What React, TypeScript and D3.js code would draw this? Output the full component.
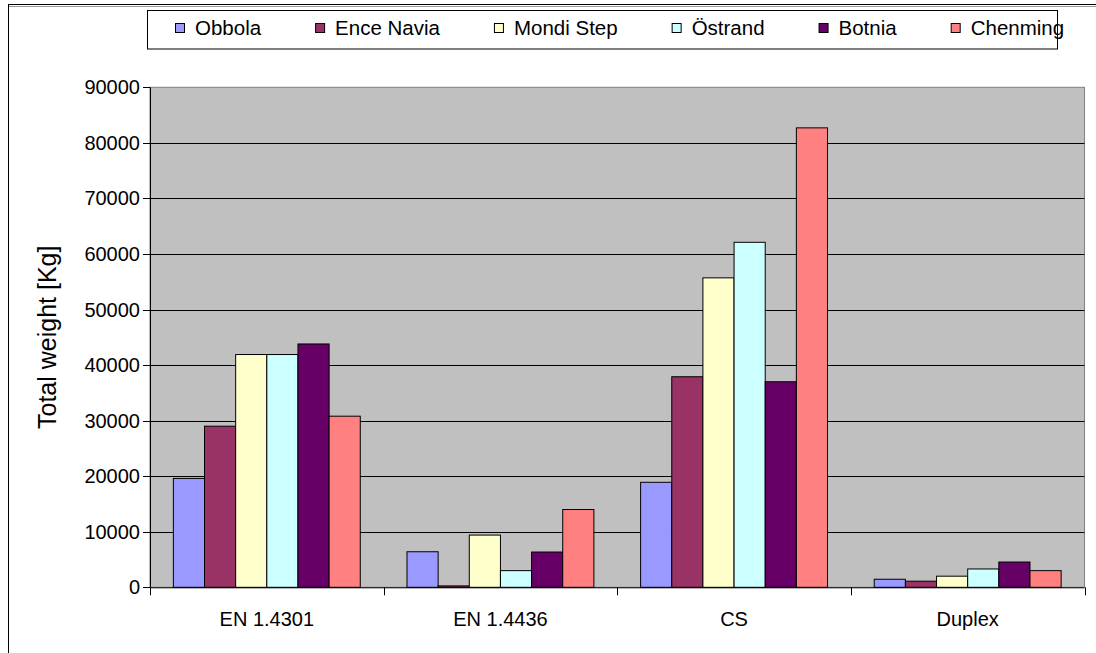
import React from "react";
import * as d3 from "d3";

// Material groups along the x axis
const categories = ["EN 1.4301", "EN 1.4436", "CS", "Duplex"];

// Mills (one series each)
const seriesNames = ["Obbola", "Ence Navia", "Mondi Step", "Östrand", "Botnia", "Chenming"];
const seriesColors = ["#9999FF", "#993366", "#FFFFCC", "#CCFFFF", "#660066", "#FF8080"];

// Total weight [Kg] per material group, one array per mill
const obbola = [19600, 6400, 18900, 1450];
const enceNavia = [29000, 250, 37900, 1100];
const mondiStep = [41900, 9400, 55700, 2000];
const ostrand = [41900, 3000, 62100, 3300];
const botnia = [43800, 6350, 37000, 4550];
const chenming = [30800, 14000, 82700, 3000];

const yTicks = [0, 10000, 20000, 30000, 40000, 50000, 60000, 70000, 80000, 90000];

const seriesValues = [obbola, enceNavia, mondiStep, ostrand, botnia, chenming];

const W = 1096;
const H = 653;
const FONT = "Arial, 'Liberation Sans', sans-serif";

function textWidth(text: string, size: number): number {
  const c = document.createElement("canvas").getContext("2d");
  if (!c) return text.length * size * 0.55;
  c.font = `${size}px ${FONT}`;
  return c.measureText(text).width;
}

export default function App() {
  const plot = { left: 150, right: 1084.5, top: 87.3, bottom: 587.3 };

  const x0 = d3.scaleBand<string>().domain(categories).range([plot.left, plot.right]).padding(0);
  const x1 = d3
    .scaleBand<string>()
    .domain(seriesNames)
    .range([0, x0.bandwidth()])
    .paddingInner(0)
    .paddingOuter(0.75);
  const y = d3.scaleLinear().domain([0, 90000]).range([plot.bottom, plot.top]);

  // Legend layout from measured label widths
  const legendFont = 20.5;
  let lx = 175;
  const legendItems = seriesNames.map((name, i) => {
    const item = { name, color: seriesColors[i], x: lx };
    lx += 20 + textWidth(name, legendFont) + 54;
    return item;
  });

  return (
    <svg
      width={W}
      height={H}
      style={{ position: "absolute", left: 0, top: 0, background: "#fff" }}
      fontFamily={FONT}
    >
      {/* chart frame */}
      <rect x={8.5} y={4.5} width={W + 20} height={H + 20} fill="#fff" stroke="#000" strokeWidth={1} />
      <line x1={9} x2={W} y1={6.5} y2={6.5} stroke="#9a9a9a" strokeWidth={1} />

      {/* plot area */}
      <rect
        x={plot.left}
        y={plot.top}
        width={plot.right - plot.left}
        height={plot.bottom - plot.top}
        fill="#C0C0C0"
        stroke="#808080"
        strokeWidth={1}
      />

      {/* gridlines */}
      {yTicks
        .filter((t) => t > 0 && t < 90000)
        .map((t) => (
          <line
            key={`g${t}`}
            x1={plot.left}
            x2={plot.right}
            y1={Math.round(y(t)) + 0.5}
            y2={Math.round(y(t)) + 0.5}
            stroke="#000"
            strokeWidth={1}
          />
        ))}

      {/* bars */}
      {categories.map((cat, ci) =>
        seriesNames.map((name, si) => {
          const v = seriesValues[si][ci];
          const bx = (x0(cat) ?? 0) + (x1(name) ?? 0);
          return (
            <rect
              key={`${cat}-${name}`}
              x={bx}
              y={y(v)}
              width={x1.bandwidth()}
              height={plot.bottom - y(v)}
              fill={seriesColors[si]}
              stroke="#000"
              strokeWidth={1}
            />
          );
        })
      )}

      {/* y axis */}
      <line x1={plot.left + 0.5} x2={plot.left + 0.5} y1={plot.top} y2={plot.bottom} stroke="#000" />
      {yTicks.map((t) => (
        <g key={`yt${t}`}>
          <line
            x1={plot.left - 7}
            x2={plot.left}
            y1={Math.round(y(t)) + 0.5}
            y2={Math.round(y(t)) + 0.5}
            stroke="#000"
          />
          <text x={140} y={y(t)} dy="0.35em" textAnchor="end" fontSize={20} fill="#000">
            {t}
          </text>
        </g>
      ))}
      <text
        transform={`translate(56, ${(plot.top + plot.bottom) / 2}) rotate(-90)`}
        textAnchor="middle"
        fontSize={25}
        fill="#000"
      >
        Total weight [Kg]
      </text>

      {/* x axis */}
      <line x1={plot.left} x2={plot.right} y1={plot.bottom + 0.5} y2={plot.bottom + 0.5} stroke="#000" />
      {[...categories.map((c) => x0(c) ?? 0), plot.right].map((px, i) => (
        <line
          key={`xt${i}`}
          x1={Math.round(px) + 0.5}
          x2={Math.round(px) + 0.5}
          y1={plot.bottom}
          y2={plot.bottom + 8}
          stroke="#000"
        />
      ))}
      {categories.map((c) => (
        <text
          key={`xl${c}`}
          x={(x0(c) ?? 0) + x0.bandwidth() / 2}
          y={626}
          textAnchor="middle"
          fontSize={20}
          fill="#000"
        >
          {c}
        </text>
      ))}

      {/* legend */}
      <rect x={147.5} y={10.5} width={910} height={38.5} fill="#fff" stroke="#000" strokeWidth={1} />
      {legendItems.map((it) => (
        <g key={`lg${it.name}`}>
          <rect x={it.x + 0.5} y={23.5} width={9} height={9} fill={it.color} stroke="#000" strokeWidth={1} />
          <text x={it.x + 20} y={35} fontSize={legendFont} fill="#000">
            {it.name}
          </text>
        </g>
      ))}
    </svg>
  );
}
